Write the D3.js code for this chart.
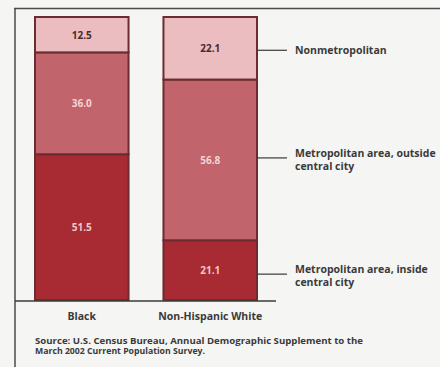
<!DOCTYPE html>
<html>
<head>
<meta charset="utf-8">
<script src="https://cdn.jsdelivr.net/npm/d3@7"></script>
<style>
  html, body { margin: 0; padding: 0; background: #f5f5f3; }
  svg { display: block; }
  text { font-family: "Open Sans", Lato, sans-serif; font-weight: 700; }
</style>
</head>
<body>
<svg id="chart" width="440" height="367"></svg>
<script>
// Share of population by residence, percent
const groups = ["Black", "Non-Hispanic White"];
const areas = ["Metropolitan area, inside central city", "Metropolitan area, outside central city", "Nonmetropolitan"];
const insideCity = [51.5, 21.1];
const outsideCity = [36.0, 56.8];
const nonMetro = [12.5, 22.1];
const valueLabels = [["51.5", "21.1"], ["36.0", "56.8"], ["12.5", "22.1"]];
const legendLines = [["Metropolitan area, inside", "central city"], ["Metropolitan area, outside", "central city"], ["Nonmetropolitan"]];
const sourceLines = ["Source: U.S. Census Bureau, Annual Demographic Supplement to the", "March 2002 Current Population Survey."];

const fills = ["#a82b33", "#c2646c", "#ecbdc0"];
const labelColors = ["#f0c8c8", "#f3d4d4", "#4a2a2a"];

const svg = d3.select("#chart");

const x = d3.scaleBand().domain(groups).range([35, 257]).paddingInner(0.272).paddingOuter(0);
const y = d3.scaleLinear().domain([0, 100]).range([300, 17]);

const seriesValues = [insideCity, outsideCity, nonMetro];
const rows = groups.map((g, i) => {
  const r = { group: g };
  areas.forEach((a, k) => { r[a] = seriesValues[k][i]; });
  return r;
});
const stacked = d3.stack().keys(areas)(rows);

// frame
svg.append("line").attr("x1", 14).attr("x2", 440).attr("y1", 8.5).attr("y2", 8.5)
  .attr("stroke", "#4a4a4a").attr("stroke-width", 1.5);
svg.append("line").attr("x1", 15).attr("x2", 15).attr("y1", 8).attr("y2", 367)
  .attr("stroke", "#4a4a4a").attr("stroke-width", 1.5);

// stacked bars
stacked.forEach((layer, k) => {
  const g = svg.append("g");
  g.selectAll("rect").data(layer).join("rect")
    .attr("x", d => x(d.data.group))
    .attr("width", x.bandwidth())
    .attr("y", d => y(d[1]))
    .attr("height", d => y(d[0]) - y(d[1]))
    .attr("fill", fills[k])
    .attr("stroke", "#6a2c2e")
    .attr("stroke-width", 2);
  g.selectAll("text").data(layer).join("text")
    .attr("x", d => x(d.data.group) + x.bandwidth() / 2)
    .attr("y", d => (y(d[0]) + y(d[1])) / 2 + 4)
    .attr("text-anchor", "middle")
    .attr("font-size", 10)
    .attr("fill", labelColors[k])
    .text((d, i) => valueLabels[k][i]);
});

// baseline
svg.append("line").attr("x1", 15).attr("x2", 276).attr("y1", 301).attr("y2", 301)
  .attr("stroke", "#3a3a3a").attr("stroke-width", 1.5);

// category labels
svg.selectAll("text.cat").data(groups).join("text")
  .attr("class", "cat")
  .attr("x", d => x(d) + x.bandwidth() / 2)
  .attr("y", 320)
  .attr("text-anchor", "middle")
  .attr("font-size", 10.5)
  .attr("fill", "#3a3a3a")
  .text(d => d);

// legend, pointing at the segments of the right-hand bar
const last = groups[groups.length - 1];
const lx = x(last) + x.bandwidth();
stacked.forEach((layer, k) => {
  const d = layer[layer.length - 1];
  const my = (y(d[0]) + y(d[1])) / 2 + (k === 0 ? 4 : (k === 1 ? -2 : 2));
  svg.append("line").attr("x1", lx).attr("x2", lx + 30).attr("y1", my).attr("y2", my)
    .attr("stroke", "#3a3a3a").attr("stroke-width", 1.2);
  const lines = legendLines[k];
  const t = svg.append("text").attr("x", lx + 38).attr("font-size", 10.5).attr("fill", "#3a3a3a");
  const first = lines.length === 1 ? my + 4 : my - 1;
  lines.forEach((s, j) => {
    t.append("tspan").attr("x", lx + 38).attr("y", first + j * 13).text(s);
  });
});

// source note
const srcWidths = [328, 170];
const src = svg.append("text").attr("font-size", 8.5).attr("fill", "#3a3a3a");
sourceLines.forEach((s, j) => {
  src.append("tspan").attr("x", 35).attr("y", 344 + j * 9.5)
    .attr("textLength", srcWidths[j]).attr("lengthAdjust", "spacingAndGlyphs").text(s);
});
</script>
</body>
</html>
